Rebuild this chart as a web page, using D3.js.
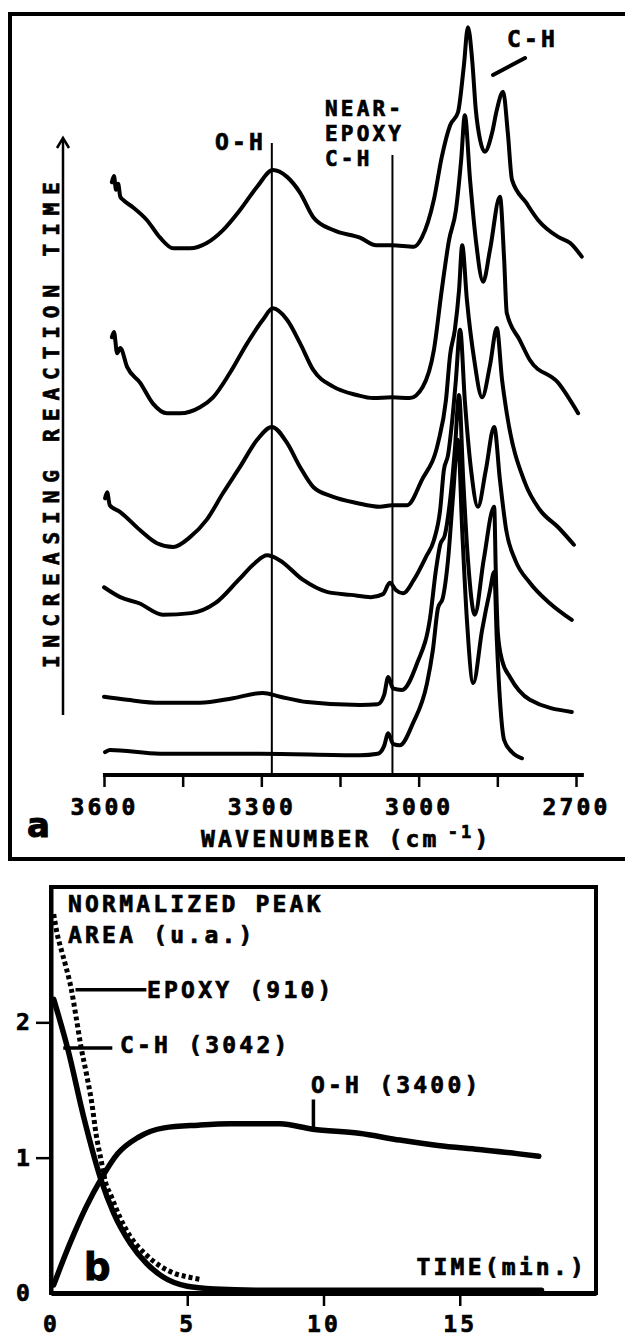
<!DOCTYPE html>
<html>
<head>
<meta charset="utf-8">
<script src="https://cdn.jsdelivr.net/npm/d3@7"></script>
<style>
  html, body { margin: 0; padding: 0; background: #fff; }
  svg { display: block; }
  .lbl {
    font-family: "DejaVu Sans Mono", monospace;
    font-weight: bold;
    font-size: 23px;
    letter-spacing: 3.2px;
    fill: #000;
    stroke: #000;
    stroke-width: 0.7px;
  }
  .panel-letter { font-family: "DejaVu Sans", sans-serif; font-weight: bold; fill: #000; stroke: #000; stroke-width: 1px; }
</style>
</head>
<body>
<div id="chart"></div>
<script>
"use strict";

const width = 625,
  height = 1340;

// Panel a - IR spectra, bottom (start) to top (end of reaction)
// [wavenumber (cm-1), offset absorbance (a.u.)]
const spectrum6 = [
  [3598, 3.0], [3589, 3.3], [3493, 2.8], [3303, 2.8], [3112, 2.6], [3078, 2.8],
  [3066, 3.8], [3058, 5.5], [3049, 4.1], [3036, 3.9], [3011, 6.8], [2984, 12.1],
  [2973, 16.4], [2963, 22.0], [2954, 23.3], [2944, 28.3], [2935, 36.2], [2925, 44.1],
  [2917, 32.2], [2908, 20.4], [2896, 12.1], [2879, 19.1], [2864, 24.3], [2856, 26.7],
  [2851, 17.8], [2845, 9.9], [2837, 4.6], [2822, 3.0], [2803, 2.2],
];
const spectrum5 = [
  [3600, 10.3], [3556, 9.9], [3493, 9.5], [3417, 9.5], [3354, 10.1], [3297, 10.8],
  [3264, 10.3], [3213, 9.6], [3112, 9.2], [3078, 9.3], [3066, 10.5], [3058, 12.9],
  [3049, 11.4], [3032, 11.2], [3003, 14.7], [2978, 20.8], [2967, 27.0], [2959, 30.3],
  [2950, 31.6], [2940, 36.2], [2931, 42.8], [2923, 50.0], [2915, 38.8], [2906, 28.3],
  [2893, 21.1], [2876, 28.3], [2856, 35.3], [2853, 27.0], [2849, 18.7], [2841, 15.1],
  [2826, 12.9], [2788, 9.9], [2708, 8.3],
];
const spectrum4 = [
  [3600, 24.7], [3569, 23.4], [3533, 22.6], [3488, 21.1], [3434, 21.3], [3388, 22.6],
  [3343, 25.7], [3312, 27.9], [3289, 28.9], [3266, 28.3], [3221, 25.7], [3175, 24.1],
  [3129, 23.7], [3091, 23.4], [3068, 23.8], [3055, 25.3], [3043, 24.3], [3030, 23.9],
  [3009, 25.7], [2986, 28.7], [2971, 30.9], [2959, 34.9], [2952, 40.1], [2944, 42.1],
  [2936, 46.7], [2929, 52.0], [2921, 58.6], [2912, 49.3], [2900, 40.1], [2887, 35.3],
  [2872, 40.1], [2856, 45.8], [2845, 38.8], [2833, 32.2], [2816, 28.3], [2788, 25.3],
  [2750, 22.6], [2708, 20.4],
];
const spectrum3 = [
  [3598, 36.4], [3594, 37.2], [3589, 35.5], [3569, 34.6], [3531, 32.2], [3499, 30.5],
  [3468, 30.0], [3436, 31.3], [3404, 33.6], [3373, 37.1], [3341, 40.5], [3308, 44.1],
  [3280, 45.8], [3251, 43.7], [3226, 40.5], [3201, 37.9], [3163, 36.6], [3118, 35.8],
  [3074, 35.3], [3051, 35.5], [3022, 35.5], [2994, 38.8], [2963, 43.7], [2948, 49.3],
  [2940, 55.3], [2931, 58.6], [2923, 63.8], [2917, 69.7], [2908, 62.5], [2894, 54.6],
  [2879, 49.7], [2864, 53.9], [2851, 58.8], [2841, 52.0], [2832, 47.6], [2797, 38.4],
  [2769, 34.9], [2734, 32.6], [2704, 30.3],
];
const spectrum2 = [
  [3585, 57.6], [3581, 58.3], [3575, 55.5], [3569, 56.2], [3556, 53.7], [3531, 51.6],
  [3507, 48.9], [3480, 47.6], [3455, 47.6], [3417, 48.4], [3392, 49.7], [3360, 52.9],
  [3327, 56.8], [3297, 59.9], [3278, 61.4], [3251, 59.9], [3226, 56.8], [3201, 53.3],
  [3163, 51.1], [3118, 50.0], [3087, 49.6], [3051, 49.7], [3017, 49.6], [2992, 51.1],
  [2971, 55.9], [2956, 63.8], [2942, 70.4], [2929, 74.3], [2919, 80.9], [2912, 86.8],
  [2902, 78.3], [2891, 70.4], [2877, 64.9], [2864, 69.1], [2845, 76.1], [2837, 67.8],
  [2832, 60.8], [2807, 57.2], [2788, 54.6], [2734, 51.6], [2696, 47.6],
];
const spectrum1 = [
  [3585, 78.0], [3581, 78.8], [3577, 77.0], [3573, 77.8], [3569, 76.1], [3564, 75.7],
  [3545, 74.7], [3518, 73.0], [3493, 70.7], [3468, 69.3], [3436, 69.3], [3404, 70.0],
  [3373, 71.7], [3341, 74.3], [3308, 77.4], [3278, 79.6], [3251, 78.7], [3226, 76.6],
  [3201, 73.4], [3163, 71.7], [3112, 70.7], [3081, 69.7], [3051, 69.7], [3009, 69.5],
  [2994, 70.7], [2971, 75.7], [2956, 81.3], [2940, 85.5], [2925, 87.2], [2914, 93.2],
  [2906, 98.4], [2898, 94.1], [2891, 87.5], [2883, 83.6], [2874, 82.0], [2860, 84.5],
  [2851, 87.5], [2839, 89.9], [2830, 84.5], [2822, 78.3], [2795, 75.3], [2772, 73.0],
  [2734, 70.8], [2711, 70.0], [2689, 68.2],
];
const spectra = [spectrum1, spectrum2, spectrum3, spectrum4, spectrum5, spectrum6];

const waveTicks = [3600, 3450, 3300, 3150, 3000, 2850, 2700];
const waveLabels = [3600, 3300, 3000, 2700];
const bandOH = 3280,
  bandNearEpoxy = 3050;

// Panel b - normalized peak areas vs time (min)
const epoxy910 = [
  [0.1, 2.8], [0.2, 2.68], [0.4, 2.52], [0.55, 2.41], [0.75, 2.24], [0.92, 2.04],
  [1.1, 1.82], [1.3, 1.62], [1.5, 1.4], [1.65, 1.18], [1.85, 0.97], [2.0, 0.82],
  [2.2, 0.72], [2.55, 0.55], [2.9, 0.42], [3.4, 0.3], [4.0, 0.2], [4.6, 0.14],
  [5.0, 0.12], [5.5, 0.1],
];
const ch3042 = [
  [0.1, 2.17], [0.62, 1.8], [1.2, 1.3], [1.83, 0.84], [2.3, 0.59], [2.9, 0.37],
  [3.5, 0.22], [4.1, 0.12], [5.0, 0.05], [6, 0.03], [8, 0.02], [10, 0.02],
  [12, 0.02], [14, 0.02], [16, 0.02], [18, 0.02],
];
const oh3400 = [
  [0.1, 0.06], [0.5, 0.27], [0.85, 0.44], [1.3, 0.64], [1.83, 0.84], [2.45, 1.03],
  [3.2, 1.15], [4.15, 1.22], [5.4, 1.24], [6.6, 1.25], [8.4, 1.25], [9.6, 1.21],
  [11.3, 1.18], [12.8, 1.13], [14.2, 1.09], [15.7, 1.06], [17.1, 1.03], [17.9, 1.01],
];
const timeTicks = [0, 5, 10, 15];
const areaTicks = [0, 1, 2];

const svg = d3
  .select("#chart")
  .append("svg")
  .attr("width", width)
  .attr("height", height)
  .attr("viewBox", [0, 0, width, height]);

// ---------------- panel a ----------------
const xa = d3.scaleLinear().domain([3600, 2700]).range([104, 576]);
const ya = d3.scaleLinear().domain([0, 100]).range([775, 15]);

// frame, open on the right side
svg
  .append("path")
  .attr("d", "M625,14H10V859H625")
  .attr("fill", "none")
  .attr("stroke", "#000")
  .attr("stroke-width", 4);

// band markers
[
  [bandOH, 143],
  [bandNearEpoxy, 155],
].forEach(([w, top]) => {
  svg
    .append("line")
    .attr("x1", xa(w))
    .attr("x2", xa(w))
    .attr("y1", top)
    .attr("y2", ya(0))
    .attr("stroke", "#000")
    .attr("stroke-width", 2);
});

const specLine = d3
  .line()
  .x((d) => xa(d[0]))
  .y((d) => ya(d[1]))
  .curve(d3.curveMonotoneX);

svg
  .append("g")
  .selectAll("path")
  .data(spectra)
  .join("path")
  .attr("d", specLine)
  .attr("fill", "none")
  .attr("stroke", "#000")
  .attr("stroke-width", 4)
  .attr("stroke-linejoin", "round")
  .attr("stroke-linecap", "round");

// wavenumber axis
const axisA = svg
  .append("g")
  .attr("transform", `translate(0,${ya(0)})`)
  .call(
    d3
      .axisBottom(xa)
      .tickValues(waveTicks)
      .tickSize(12)
      .tickSizeOuter(0)
      .tickPadding(12)
      .tickFormat((d) => (waveLabels.includes(d) ? d : ""))
  );
axisA.select(".domain").remove();
axisA.selectAll(".tick line").attr("stroke", "#000").attr("stroke-width", 2.5);
axisA.selectAll(".tick text").attr("class", "lbl").attr("font-family", null).attr("font-size", null);
axisA
  .append("line")
  .attr("x1", xa(3602))
  .attr("x2", xa(2685))
  .attr("stroke", "#000")
  .attr("stroke-width", 4);

const xTitle = svg.append("text").attr("class", "lbl").attr("x", 201).attr("y", 847);
xTitle.append("tspan").text("WAVENUMBER (cm");
xTitle.append("tspan").attr("dx", 8).attr("dy", -9).style("font-size", "17px").text("-1");
xTitle.append("tspan").attr("dy", 9).text(")");

svg.append("text").attr("class", "panel-letter").attr("x", 27).attr("y", 837).style("font-size", "34px").text("a");

// reaction time arrow
svg
  .append("line")
  .attr("x1", 63)
  .attr("x2", 63)
  .attr("y1", 715)
  .attr("y2", 139)
  .attr("stroke", "#000")
  .attr("stroke-width", 2.5);
svg
  .append("path")
  .attr("d", "M57,148L63,138L69,148")
  .attr("fill", "none")
  .attr("stroke", "#000")
  .attr("stroke-width", 2.5);
svg
  .append("text")
  .attr("class", "lbl")
  .attr("transform", "translate(59,668) rotate(-90)")
  .attr("textLength", 486)
  .attr("lengthAdjust", "spacing")
  .style("letter-spacing", "0px")
  .style("font-size", "21px")
  .text("INCREASING REACTION TIME");

// band labels
svg.append("text").attr("class", "lbl").attr("x", 215).attr("y", 150).text("O-H");
["NEAR-", "EPOXY", "C-H"].forEach((t, i) => {
  svg
    .append("text")
    .attr("class", "lbl")
    .attr("x", 325)
    .attr("y", 116 + i * 25)
    .style("font-size", "21px")
    .text(t);
});
svg.append("text").attr("class", "lbl").attr("x", 507).attr("y", 47).text("C-H");
svg
  .append("line")
  .attr("x1", 493)
  .attr("y1", 75)
  .attr("x2", 525)
  .attr("y2", 58)
  .attr("stroke", "#000")
  .attr("stroke-width", 4)
  .attr("stroke-linecap", "round");

// ---------------- panel b ----------------
const xb = d3.scaleLinear().domain([0, 20]).range([51, 596]);
const yb = d3.scaleLinear().domain([0, 3]).range([1293, 887]);

svg
  .append("rect")
  .attr("x", xb(0))
  .attr("y", yb(3))
  .attr("width", xb(20) - xb(0))
  .attr("height", yb(0) - yb(3))
  .attr("fill", "none")
  .attr("stroke", "#000")
  .attr("stroke-width", 4);

const axisBx = svg
  .append("g")
  .attr("transform", `translate(0,${yb(0)})`)
  .call(
    d3
      .axisBottom(xb)
      .tickValues(timeTicks)
      .tickFormat(d3.format("d"))
      .tickSize(13)
      .tickSizeOuter(0)
      .tickPadding(10)
  );
axisBx.select(".domain").attr("stroke-width", 5);
axisBx.selectAll(".tick line").attr("stroke-width", 2.5).filter((d) => d === 0).remove();
axisBx.selectAll(".tick text").attr("class", "lbl").attr("font-family", null).attr("font-size", null);

const axisBy = svg
  .append("g")
  .attr("transform", `translate(${xb(0)},0)`)
  .call(
    d3
      .axisLeft(yb)
      .tickValues(areaTicks)
      .tickFormat(d3.format("d"))
      .tickSize(15)
      .tickSizeOuter(0)
      .tickPadding(3)
  );
axisBy.select(".domain").attr("stroke-width", 4);
axisBy.selectAll(".tick line").attr("stroke-width", 2.5).filter((d) => d === 0).remove();
axisBy.selectAll(".tick text").attr("class", "lbl").attr("font-family", null).attr("font-size", null);

const kinLine = d3
  .line()
  .x((d) => xb(d[0]))
  .y((d) => yb(d[1]))
  .curve(d3.curveMonotoneX);

svg
  .append("path")
  .attr("d", kinLine(epoxy910))
  .attr("fill", "none")
  .attr("stroke", "#000")
  .attr("stroke-width", 5)
  .attr("stroke-dasharray", "4 3");
[ch3042, oh3400].forEach((series) => {
  svg
    .append("path")
    .attr("d", kinLine(series))
    .attr("fill", "none")
    .attr("stroke", "#000")
    .attr("stroke-width", 5.5)
    .attr("stroke-linejoin", "round")
    .attr("stroke-linecap", "round");
});

// curve labels with leaders
const leaders = [
  [xb(0.9), yb(2.24), xb(3.5), yb(2.24)],
  [xb(0.45), yb(1.81), xb(2.25), yb(1.81)],
  [xb(9.63), yb(1.22), xb(9.63), yb(1.43)],
];
leaders.forEach(([x1, y1, x2, y2]) => {
  svg
    .append("line")
    .attr("x1", x1)
    .attr("y1", y1)
    .attr("x2", x2)
    .attr("y2", y2)
    .attr("stroke", "#000")
    .attr("stroke-width", 3.5);
});

svg.append("text").attr("class", "lbl").attr("x", 68).attr("y", 912).text("NORMALIZED PEAK");
svg.append("text").attr("class", "lbl").attr("x", 68).attr("y", 943).text("AREA (u.a.)");
svg.append("text").attr("class", "lbl").attr("x", 147).attr("y", 998).text("EPOXY (910)");
svg.append("text").attr("class", "lbl").attr("x", 120).attr("y", 1053).text("C-H (3042)");
svg.append("text").attr("class", "lbl").attr("x", 311).attr("y", 1093).text("O-H (3400)");
svg
  .append("text")
  .attr("class", "lbl")
  .attr("x", 587)
  .attr("y", 1275)
  .attr("text-anchor", "end")
  .text("TIME(min.)");
svg.append("text").attr("class", "panel-letter").attr("x", 84).attr("y", 1280).style("font-size", "37px").text("b");
</script>
</body>
</html>
